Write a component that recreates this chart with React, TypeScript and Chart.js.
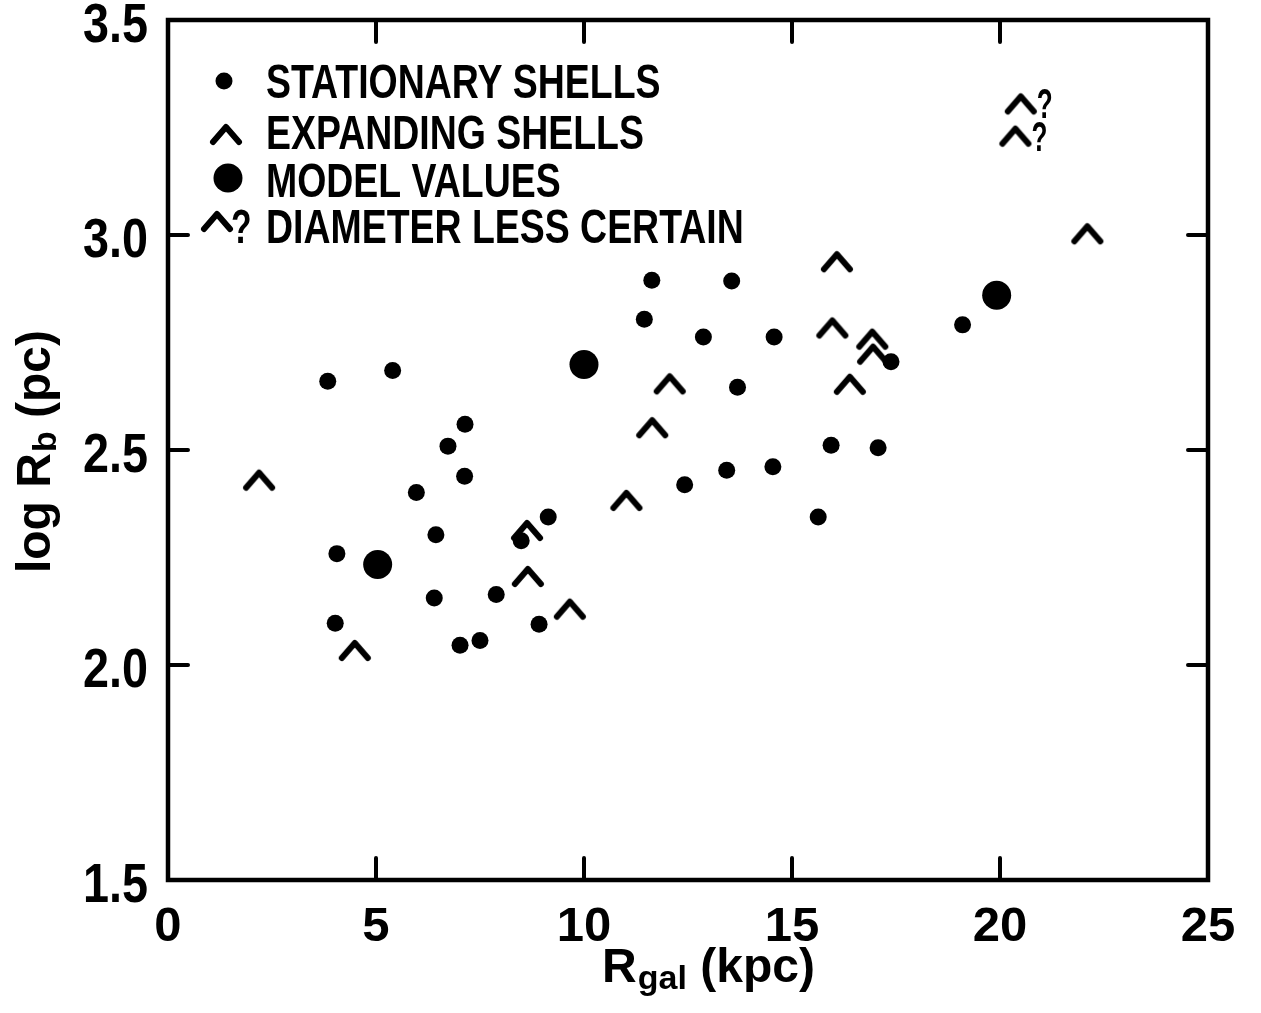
import React, { useEffect, useRef } from 'react';
import { Chart, registerables } from 'chart.js';

Chart.register(...registerables);

// ---- data ----
const xTickValues = [0, 5, 10, 15, 20, 25];
const yTickValues = [1.5, 2.0, 2.5, 3.0, 3.5];

const stationaryX = [3.84, 5.40, 4.06, 4.02, 5.97, 6.44, 6.73, 7.14, 7.13, 6.40, 7.02, 7.50, 7.89, 8.92, 9.14, 8.49, 11.45, 11.63, 12.87, 13.55, 13.69, 12.42, 13.43, 14.57, 14.54, 15.63, 15.94, 17.07, 17.38, 19.10];
const stationaryY = [2.660, 2.685, 2.259, 2.097, 2.401, 2.303, 2.509, 2.560, 2.439, 2.156, 2.046, 2.057, 2.164, 2.095, 2.344, 2.289, 2.804, 2.895, 2.763, 2.893, 2.646, 2.419, 2.453, 2.763, 2.461, 2.344, 2.511, 2.505, 2.705, 2.791];

const expandingX = [2.19, 4.49, 8.63, 8.65, 9.66, 11.02, 11.64, 12.06, 16.08, 15.97, 16.93, 16.95, 16.39, 22.10];
const expandingY = [2.431, 2.035, 2.314, 2.207, 2.131, 2.384, 2.553, 2.655, 2.939, 2.785, 2.759, 2.724, 2.654, 3.004];

const modelX = [5.04, 10.00, 19.92];
const modelY = [2.234, 2.699, 2.860];

const uncertainX = [20.50, 20.37];
const uncertainY = [3.306, 3.231];

const legendLabels = ['STATIONARY SHELLS', 'EXPANDING SHELLS', 'MODEL VALUES', 'DIAMETER LESS CERTAIN'];
const xTitleParts = ['R', 'gal', ' (kpc)'];
const yTitleParts = ['log R', 'b', ' (pc)'];

const FONT = '"Liberation Sans", Arial, Helvetica, sans-serif';

function makeCaret(): HTMLCanvasElement {
  const c = document.createElement('canvas');
  c.width = 36;
  c.height = 26;
  const g = c.getContext('2d')!;
  g.strokeStyle = '#000';
  g.lineWidth = 6;
  g.lineCap = 'round';
  g.lineJoin = 'round';
  g.beginPath();
  g.moveTo(5, 21);
  g.lineTo(18, 6);
  g.lineTo(31, 21);
  g.stroke();
  return c;
}

const pts = (xs: number[], ys: number[]) => xs.map((x, i) => ({ x, y: ys[i] }));

export default function App() {
  const ref = useRef<HTMLCanvasElement | null>(null);

  useEffect(() => {
    const canvas = ref.current!;
    const caret = makeCaret();

    const framePlugin = {
      id: 'frame',
      afterDraw(chart: any) {
        const { ctx, chartArea: a } = chart;
        const xs = chart.scales.x;
        const ys = chart.scales.y;
        ctx.save();
        ctx.strokeStyle = '#000';
        ctx.lineWidth = 4.5;
        ctx.lineJoin = 'miter';
        ctx.strokeRect(a.left, a.top, a.right - a.left, a.bottom - a.top);
        ctx.lineWidth = 4;
        ctx.lineCap = 'round';
        ctx.beginPath();
        xTickValues.slice(1, -1).forEach((v) => {
          const px = xs.getPixelForValue(v);
          ctx.moveTo(px, a.bottom);
          ctx.lineTo(px, a.bottom - 22);
          ctx.moveTo(px, a.top);
          ctx.lineTo(px, a.top + 22);
        });
        yTickValues.slice(1, -1).forEach((v) => {
          const py = ys.getPixelForValue(v);
          ctx.moveTo(a.left, py);
          ctx.lineTo(a.left + 20, py);
          ctx.moveTo(a.right, py);
          ctx.lineTo(a.right - 20, py);
        });
        ctx.stroke();

        // y tick labels, placed through the y scale
        ctx.fillStyle = '#000';
        ctx.font = `bold 55px ${FONT}`;
        ctx.textAlign = 'right';
        ctx.textBaseline = 'middle';
        ys.ticks.forEach((t: any) => {
          const py = ys.getPixelForValue(t.value);
          ctx.save();
          ctx.translate(a.left - 20, py + 7);
          ctx.scale(0.85, 1);
          ctx.fillText(Number(t.value).toFixed(1), 0, 0);
          ctx.restore();
        });
        ctx.restore();
      },
    };

    const qPlugin = {
      id: 'qmarks',
      afterDatasetsDraw(chart: any) {
        const { ctx } = chart;
        const meta = chart.getDatasetMeta(3);
        ctx.save();
        ctx.fillStyle = '#000';
        ctx.font = `bold 42px ${FONT}`;
        ctx.textBaseline = 'alphabetic';
        meta.data.forEach((el: any) => {
          ctx.save();
          ctx.translate(el.x + 16, el.y + 15);
          ctx.scale(0.62, 1);
          ctx.fillText('?', 0, 0);
          ctx.restore();
        });
        ctx.restore();
      },
    };

    const legendPlugin = {
      id: 'customLegend',
      afterDraw(chart: any) {
        const { ctx } = chart;
        ctx.save();
        ctx.fillStyle = '#000';
        ctx.beginPath();
        ctx.arc(224, 81, 8.5, 0, Math.PI * 2);
        ctx.fill();
        ctx.drawImage(caret, 226 - 18, 134 - 13);
        ctx.beginPath();
        ctx.arc(228, 178, 14.5, 0, Math.PI * 2);
        ctx.fill();
        ctx.drawImage(caret, 217 - 18, 221 - 13);
        ctx.font = `bold 48px ${FONT}`;
        ctx.textBaseline = 'alphabetic';
        const baselines = [98, 149, 197, 243];
        legendLabels.forEach((t, i) => {
          ctx.save();
          ctx.translate(266, baselines[i]);
          ctx.scale(0.78, 1);
          ctx.fillText(t, 0, 0);
          ctx.restore();
        });
        ctx.save();
        ctx.translate(231, baselines[3]);
        ctx.scale(0.7, 1);
        ctx.fillText('?', 0, 0);
        ctx.restore();
        ctx.restore();
      },
    };

    const titlePlugin = {
      id: 'titles',
      afterDraw(chart: any) {
        const { ctx, chartArea: a } = chart;
        ctx.save();
        ctx.fillStyle = '#000';
        ctx.textBaseline = 'alphabetic';
        ctx.textAlign = 'left';
        const big = `bold 48px ${FONT}`;
        const small = `bold 34px ${FONT}`;
        ctx.font = big;
        const w1 = ctx.measureText(xTitleParts[0]).width;
        const w3 = ctx.measureText(xTitleParts[2]).width;
        ctx.font = small;
        const w2 = ctx.measureText(xTitleParts[1]).width;
        const cx = (a.left + a.right) / 2 + 20;
        const sx = cx - (w1 + w2 + w3) / 2;
        const by = 982;
        ctx.font = big;
        ctx.fillText(xTitleParts[0], sx, by);
        ctx.font = small;
        ctx.fillText(xTitleParts[1], sx + w1 + 1, by + 7);
        ctx.font = big;
        ctx.fillText(xTitleParts[2], sx + w1 + w2 + 1, by);
        ctx.font = big;
        const v1 = ctx.measureText(yTitleParts[0]).width;
        const v3 = ctx.measureText(yTitleParts[2]).width;
        ctx.font = small;
        const v2 = ctx.measureText(yTitleParts[1]).width;
        const cy = (a.top + a.bottom) / 2 + 2;
        ctx.translate(50, cy);
        ctx.rotate(-Math.PI / 2);
        const st = -(v1 + v2 + v3) / 2;
        ctx.font = big;
        ctx.fillText(yTitleParts[0], st, 0);
        ctx.font = small;
        ctx.fillText(yTitleParts[1], st + v1 + 1, 6);
        ctx.font = big;
        ctx.fillText(yTitleParts[2], st + v1 + v2 + 1, 0);
        ctx.restore();
      },
    };

    const chart = new Chart(canvas, {
      type: 'scatter',
      data: {
        datasets: [
          {
            label: legendLabels[0],
            data: pts(stationaryX, stationaryY),
            pointStyle: 'circle',
            pointRadius: 8.5,
            backgroundColor: '#000',
            borderWidth: 0,
          },
          {
            label: legendLabels[1],
            data: pts(expandingX, expandingY),
            pointStyle: caret as any,
            pointRadius: 16,
            backgroundColor: '#000',
            borderWidth: 0,
          },
          {
            label: legendLabels[2],
            data: pts(modelX, modelY),
            pointStyle: 'circle',
            pointRadius: 14.5,
            backgroundColor: '#000',
            borderWidth: 0,
          },
          {
            label: legendLabels[3],
            data: pts(uncertainX, uncertainY),
            pointStyle: caret as any,
            pointRadius: 16,
            backgroundColor: '#000',
            borderWidth: 0,
          },
        ],
      },
      options: {
        responsive: false,
        animation: false,
        events: [],
        layout: { padding: { left: 0, right: 53, top: 20, bottom: 0 } },
        plugins: {
          legend: { display: false },
          tooltip: { enabled: false },
        },
        scales: {
          x: {
            type: 'linear',
            min: 0,
            max: 25,
            grid: { display: false },
            border: { display: false },
            afterBuildTicks: (s: any) => {
              s.ticks = xTickValues.map((v) => ({ value: v }));
            },
            ticks: {
              color: '#000',
              font: { family: FONT, size: 49, weight: 'bold' },
              padding: 10,
              maxRotation: 0,
              callback: (v: any) => String(v),
            },
            afterFit: (s: any) => {
              s.height = 133;
              s.paddingLeft = 0;
              s.paddingRight = 0;
            },
          },
          y: {
            type: 'linear',
            min: 1.5,
            max: 3.5,
            grid: { display: false },
            border: { display: false },
            afterBuildTicks: (s: any) => {
              s.ticks = yTickValues.map((v) => ({ value: v }));
            },
            ticks: { display: false },
            afterFit: (s: any) => {
              s.width = 168;
              s.paddingTop = 0;
              s.paddingBottom = 0;
            },
          },
        },
      },
      plugins: [framePlugin, qPlugin, legendPlugin, titlePlugin],
    } as any);

    return () => chart.destroy();
  }, []);

  return (
    <div style={{ position: 'fixed', left: 0, top: 0, width: 1261, height: 1013, background: '#fff' }}>
      <canvas ref={ref} width={1261} height={1013} style={{ width: 1261, height: 1013, display: 'block' }} />
    </div>
  );
}
